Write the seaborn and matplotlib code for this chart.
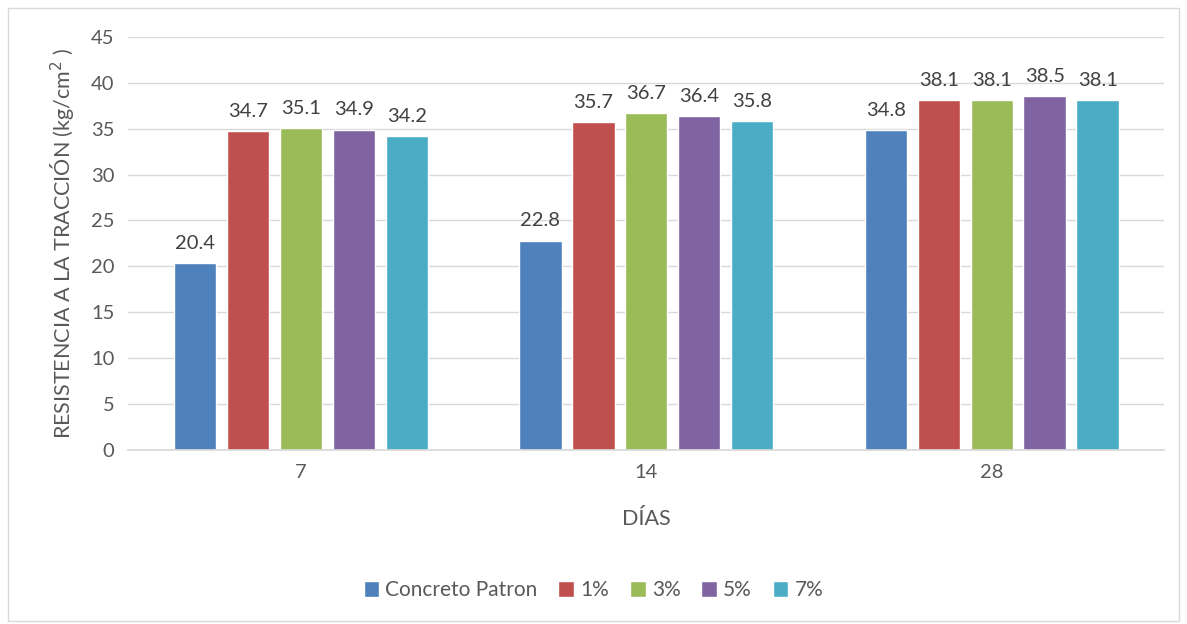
import pandas as pd
import matplotlib.pyplot as plt
import seaborn as sns
from matplotlib.patches import Rectangle

# chart data
dias = ["7", "14", "28"]
series = ["Concreto Patron", "1%", "3%", "5%", "7%"]
patron = [20.4, 22.8, 34.8]
p1 = [34.7, 35.7, 38.1]
p3 = [35.1, 36.7, 38.1]
p5 = [34.9, 36.4, 38.5]
p7 = [34.2, 35.8, 38.1]
colors = ["#4F81BD", "#C0504D", "#9BBB59", "#8064A2", "#4BACC6"]

values = [patron, p1, p3, p5, p7]
rows = []
for name, vals in zip(series, values):
    for d, v in zip(dias, vals):
        rows.append({"dias": d, "serie": name, "valor": v})
df = pd.DataFrame(rows)

sns.set_theme(style="white")
plt.rcParams['font.family'] = ['Lato', 'DejaVu Sans']
text_color = "#595959"

fig = plt.figure(figsize=(11.87, 6.24), dpi=100)
ax = fig.add_axes([0.108, 0.279, 0.873, 0.662])

sns.barplot(data=df, x="dias", y="valor", hue="serie", order=dias,
            hue_order=series, palette=colors, width=0.766, gap=0.2,
            saturation=1, ax=ax, legend=True)

for cont in ax.containers:
    ax.bar_label(cont, fmt="%.1f", padding=8, fontsize=14.5, color="#404040")

ax.set_ylim(0, 45)
ax.set_yticks(range(0, 46, 5))
ax.yaxis.grid(True, color="#D9D9D9", linewidth=1)
ax.set_axisbelow(True)
for s in ["top", "right", "left"]:
    ax.spines[s].set_visible(False)
ax.spines["bottom"].set_color("#D9D9D9")
ax.tick_params(axis="both", length=0, labelsize=14.5, colors=text_color, pad=10)
ax.set_xlabel("DÍAS", fontsize=15.5, color=text_color, labelpad=20)
ax.set_ylabel("RESISTENCIA A LA TRACCIÓN (kg/cm$^2$ )", fontsize=15.5,
              color=text_color, labelpad=10)

handles, labels = ax.get_legend_handles_labels()
ax.legend_.remove()
fig.legend(handles, labels, loc="center", bbox_to_anchor=(0.5, 0.054),
           ncol=5, frameon=False, fontsize=15, handlelength=0.75,
           handleheight=0.75, handletextpad=0.3, columnspacing=1.0,
           labelcolor=text_color)

fig.patches.append(Rectangle((0.007, 0.005), 0.986, 0.982, transform=fig.transFigure,
                             fill=False, edgecolor="#D9D9D9", linewidth=1))

fig.savefig("out.png", dpi=100)
